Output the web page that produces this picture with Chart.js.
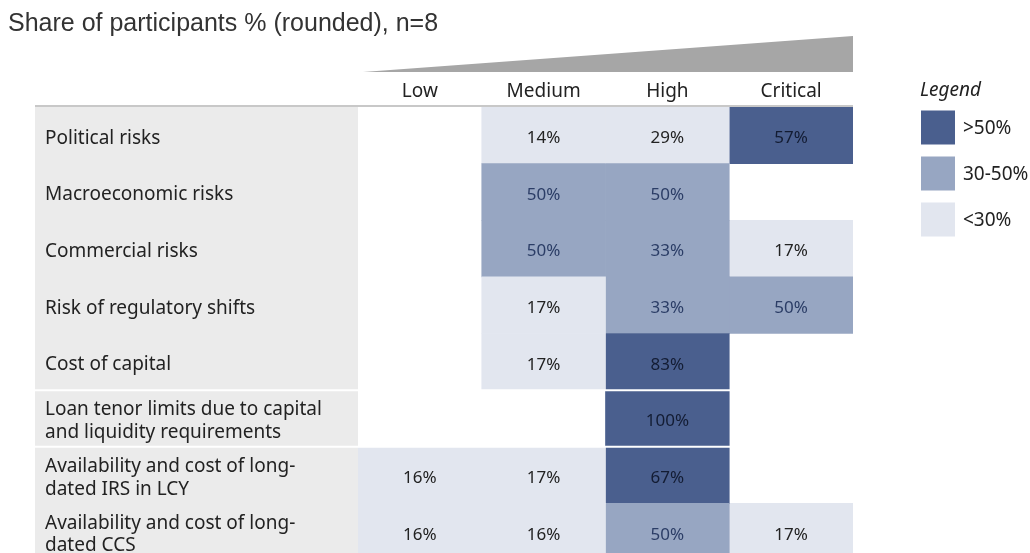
<!DOCTYPE html>
<html><head><meta charset="utf-8">
<script src="https://cdn.jsdelivr.net/npm/chart.js@4.4.1/dist/chart.umd.min.js"></script>
<style>html,body{margin:0;padding:0;background:#fff;overflow:hidden}#wrap{position:relative;width:1030px;height:562px}</style>
</head><body><div id="wrap"><canvas id="c"></canvas></div>
<script>
// ---- data ----
const titleText = 'Share of participants % (rounded), n=8';
const columns = ['Low', 'Medium', 'High', 'Critical'];
const risks = [
  'Political risks',
  'Macroeconomic risks',
  'Commercial risks',
  'Risk of regulatory shifts',
  'Cost of capital',
  ['Loan tenor limits due to capital', 'and liquidity requirements'],
  ['Availability and cost of long-', 'dated IRS in LCY'],
  ['Availability and cost of long-', 'dated CCS']
];
const low      = [null, null, null, null, null, null, 16, 16];
const medium   = [14, 50, 50, 17, 17, null, 17, 16];
const high     = [29, 50, 33, 33, 83, 100, 67, 50];
const critical = [57, null, 17, 50, null, null, null, 17];
const legendTitle = 'Legend';
const legendLabels = ['>50%', '30-50%', '<30%'];
const seriesValues = [low, medium, high, critical];

// ---- styles ----
const FONT = "'Noto Sans', 'Open Sans', sans-serif";
const FILL = { dark: '#4a5f8e', mid: '#97a6c2', light: '#e2e6ef' };
const TEXT = { dark: '#131c33', mid: '#2b3d66', light: '#222222' };
const legendBands = ['dark', 'mid', 'light'];
function band(v) { return v > 50 ? 'dark' : (v >= 30 ? 'mid' : 'light'); }
const dividerAfter = [4, 5];

const decor = {
  id: 'decor',
  afterLayout(chart) {
    if (chart.titleBlock) { chart.titleBlock.left = 8; }
  },
  beforeDraw(chart) {
    const ctx = chart.ctx, ca = chart.chartArea, ys = chart.scales.y;
    const lx = ys.left - 10;
    ctx.save();
    ctx.fillStyle = '#ebebeb';
    ctx.fillRect(lx, ca.top, ca.left - lx, ca.bottom - ca.top);
    ctx.fillStyle = '#a6a6a6';
    ctx.beginPath();
    ctx.moveTo(ca.left + 5, ca.top - 35);
    ctx.lineTo(ca.right, ca.top - 71);
    ctx.lineTo(ca.right, ca.top - 35);
    ctx.closePath();
    ctx.fill();
    ctx.strokeStyle = '#c8c8c8';
    ctx.lineWidth = 2;
    ctx.beginPath();
    ctx.moveTo(lx, ca.top - 1);
    ctx.lineTo(ca.right, ca.top - 1);
    ctx.stroke();
    ctx.restore();
  },
  afterDatasetsDraw(chart) {
    const ctx = chart.ctx, ca = chart.chartArea, ys = chart.scales.y;
    const lx = ys.left - 10;
    ctx.save();
    ctx.strokeStyle = '#ffffff';
    ctx.lineWidth = 2;
    dividerAfter.forEach(i => {
      const y = (ys.getPixelForValue(i) + ys.getPixelForValue(i + 1)) / 2;
      ctx.beginPath(); ctx.moveTo(lx, y); ctx.lineTo(ca.right, y); ctx.stroke();
    });
    ctx.font = '17px ' + FONT;
    ctx.textAlign = 'center';
    ctx.textBaseline = 'middle';
    seriesValues.forEach((vals, j) => {
      const meta = chart.getDatasetMeta(j);
      vals.forEach((v, i) => {
        if (v == null) return;
        const p = meta.data[i].getCenterPoint();
        ctx.fillStyle = TEXT[band(v)];
        ctx.fillText(v + '%', p.x, p.y + 3);
      });
    });
    const bx = ca.right + 68;
    ctx.textAlign = 'left';
    ctx.fillStyle = '#222';
    ctx.font = 'italic 19px ' + FONT;
    ctx.fillText(legendTitle, bx - 1, ca.top - 16);
    ctx.font = '19px ' + FONT;
    legendLabels.forEach((lab, k) => {
      const top = ca.top + 3.5 + k * 46;
      ctx.fillStyle = FILL[legendBands[k]];
      ctx.fillRect(bx, top, 34, 34);
      ctx.fillStyle = '#222';
      ctx.fillText(lab, bx + 42, top + 18);
    });
    ctx.restore();
  }
};

new Chart(document.getElementById('c'), {
  type: 'bar',
  data: {
    labels: risks,
    datasets: seriesValues.map((vals, j) => ({
      label: columns[j],
      data: vals.map(v => v == null ? null : [j, j + 1]),
      backgroundColor: vals.map(v => v == null ? 'rgba(0,0,0,0)' : FILL[band(v)]),
      borderWidth: 0,
      barPercentage: 1,
      categoryPercentage: 1,
      grouped: false
    }))
  },
  options: {
    indexAxis: 'y',
    responsive: true,
    maintainAspectRatio: false,
    animation: false,
    devicePixelRatio: 1,
    layout: { padding: { left: 45, right: 177, top: 0, bottom: 2 } },
    plugins: {
      legend: { display: false },
      tooltip: { enabled: false },
      title: {
        display: true, text: titleText, align: 'start', color: '#333',
        font: { family: "'Liberation Sans', Arial, sans-serif", size: 25, weight: 'normal', lineHeight: 1.2 },
        padding: { top: 9, bottom: 0 }
      }
    },
    scales: {
      x: { type: 'linear', min: 0, max: 4, display: false },
      xTop: {
        type: 'category', labels: columns, position: 'top', offset: true,
        grid: { display: false, drawTicks: false }, border: { display: false },
        ticks: { color: '#222', font: { family: FONT, size: 19, lineHeight: 1.2 }, padding: 4, maxRotation: 0 },
        afterFit(s) { s.height = 68; }
      },
      y: {
        type: 'category', offset: true,
        grid: { display: false, drawTicks: false }, border: { display: false },
        ticks: { crossAlign: 'far', color: '#222', font: { family: FONT, size: 19, lineHeight: 1.2 }, autoSkip: false, labelOffset: 3 },
        afterFit(s) { s.width = 313; s.paddingTop = 0; s.paddingBottom = 0; }
      }
    }
  },
  plugins: [decor]
});
</script></body></html>
